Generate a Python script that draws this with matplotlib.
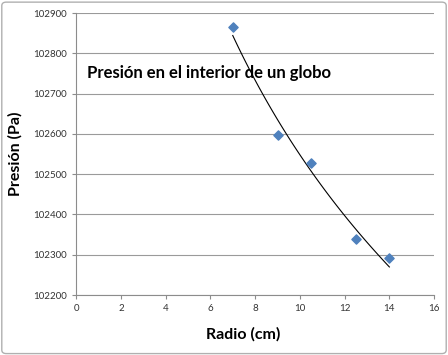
import numpy as np
import matplotlib.pyplot as plt
from matplotlib.patches import FancyBboxPatch

plt.rcParams["font.family"] = ["Lato", "DejaVu Sans"]

# data
radio = [7, 9, 10.5, 12.5, 14]
presion = [102865, 102597, 102527, 102340, 102292]

# power trendline (Excel style): P = a * r^b
b, ln_a = np.polyfit(np.log(radio), np.log(presion), 1)
r_fit = np.linspace(min(radio), max(radio), 100)
p_fit = np.exp(ln_a) * r_fit ** b

fig = plt.figure(figsize=(4.48, 3.55), dpi=100)
fig.patches.append(FancyBboxPatch((0.004, 0.004), 0.992, 0.99,
                                  boxstyle="round,pad=0,rounding_size=0.01",
                                  transform=fig.transFigure, fill=False,
                                  edgecolor="#b0b0b0", linewidth=1))

ax = fig.add_axes([0.170, 0.169, 0.799, 0.794])
ax.plot(r_fit, p_fit, color="black", linewidth=0.8)
ax.scatter(radio, presion, marker="D", s=22, color="#4F81BD", zorder=3)

ax.set_xlim(0, 16)
ax.set_ylim(102200, 102900)
ax.set_xticks(range(0, 17, 2))
ax.set_yticks(range(102200, 102901, 100))
ax.yaxis.grid(True, color="#9a9a9a", linewidth=0.8)
ax.set_axisbelow(True)

for side in ["top", "right"]:
    ax.spines[side].set_visible(False)
for side in ["left", "bottom"]:
    ax.spines[side].set_color("#8c8c8c")
ax.tick_params(axis="both", labelsize=7, color="#8c8c8c", length=3,
               labelcolor="#333333")

ax.set_xlabel("Radio (cm)", fontsize=11.5, fontweight="bold")
ax.xaxis.set_label_coords(0.466, -0.115)
ax.set_ylabel("Presión (Pa)", fontsize=11.5, fontweight="bold", labelpad=8)
ax.text(0.03, 0.787, "Presión en el interior de un globo", transform=ax.transAxes,
        fontsize=12, fontweight="bold", va="center", ha="left")

fig.savefig("out.png", dpi=100)
